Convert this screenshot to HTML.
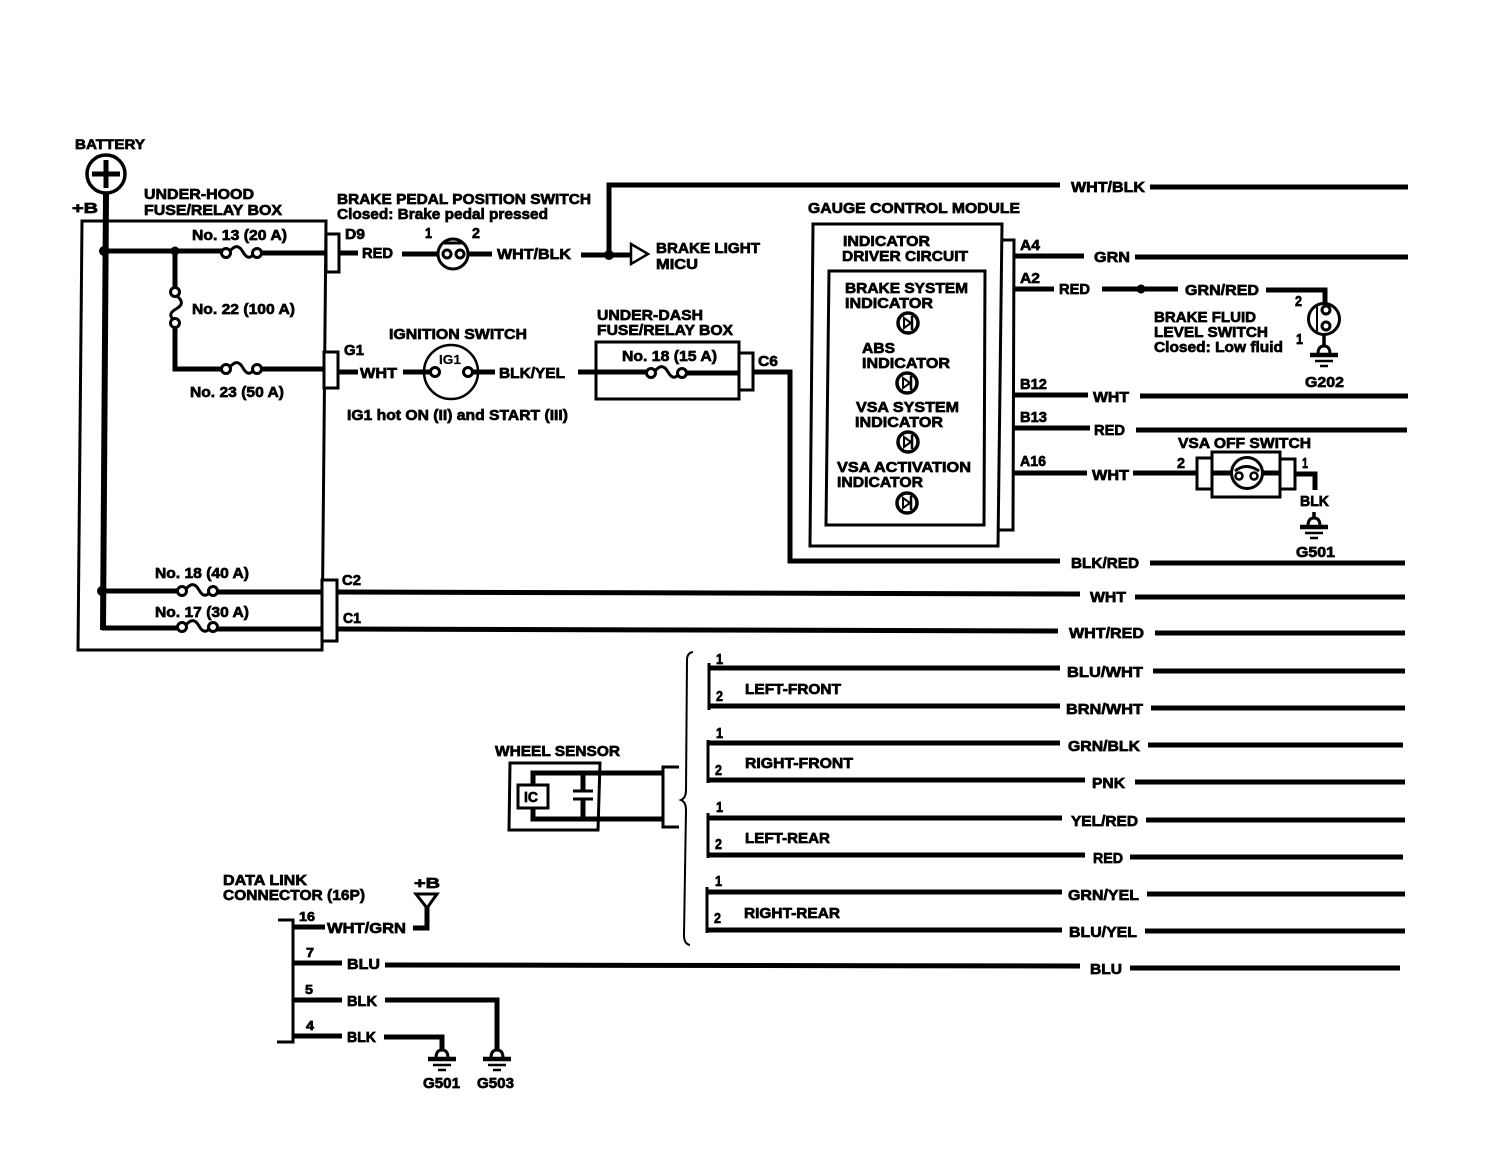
<!DOCTYPE html>
<html><head><meta charset="utf-8"><title>Wiring diagram</title>
<style>
html,body{margin:0;padding:0;background:#fff}
svg{display:block}
text{font-family:"Liberation Sans",sans-serif;font-weight:bold;font-size:15px;fill:#000;stroke:#000;stroke-width:.7px}
.w{fill:none;stroke:#000;stroke-width:5;stroke-linejoin:miter}
.v{fill:none;stroke:#000;stroke-width:3}
.t{fill:none;stroke:#000;stroke-width:3}
.n{fill:none;stroke:#000;stroke-width:2}
.b{fill:#fff;stroke:#000;stroke-width:3}
</style></head><body>
<svg width="1504" height="1168" viewBox="0 0 1504 1168" xmlns="http://www.w3.org/2000/svg">
<defs>
<g id="f"><path d="M-12 -2C-7 -8 -3 -8 1 -1C5 6 9 6 13 -1" fill="none" stroke="#000" stroke-width="3"/><circle cx="-16" cy="0" r="4.5" fill="#fff" stroke="#000" stroke-width="3"/><circle cx="15" cy="0" r="4.5" fill="#fff" stroke="#000" stroke-width="3"/></g>
<g id="g"><path d="M-6 -1Q-6 -9 0 -9Q6 -9 6 -1" fill="#fff" stroke="#000" stroke-width="3"/><path d="M-14 0H14" stroke="#000" stroke-width="4.5"/><path d="M-9 6H9" stroke="#000" stroke-width="2.5"/><path d="M-4 11H4" stroke="#000" stroke-width="2.5"/></g>
<g id="l"><circle r="10" fill="#fff" stroke="#000" stroke-width="3.5"/><path d="M-4 -5V5L3 0Z" fill="#fff" stroke="#000" stroke-width="2"/><path d="M4 -7V7" stroke="#000" stroke-width="2.5"/></g>
</defs>

<!-- under-hood box -->
<path class="t" d="M82 221H326L322 650H78Z"/>
<circle cx="106" cy="174" r="19" fill="#fff" stroke="#000" stroke-width="3.5"/>
<path d="M92 174H120M106 160V188" stroke="#000" stroke-width="5"/>
<path d="M106 193L103 630" fill="none" stroke="#000" stroke-width="6"/>
<circle cx="104" cy="251" r="5"/><circle cx="175" cy="251" r="4.5"/><circle cx="102" cy="591" r="5"/>
<path class="w" d="M104 251H222M261 253H327"/>
<path class="w" d="M175 251V289M175 327V369H222M261 369H324"/>
<use href="#f" x="242" y="253"/>
<use href="#f" transform="translate(175 308) rotate(90)"/>
<use href="#f" x="242" y="369"/>
<path class="w" d="M102 591H178M217 592H322"/>
<path class="w" d="M102 628H178M217 629H322"/>
<use href="#f" x="198" y="591"/><use href="#f" x="198" y="627"/>
<rect class="b" x="326" y="234" width="13" height="38"/>
<rect class="b" x="324" y="352" width="14" height="36"/>
<rect class="b" x="322" y="580" width="15" height="61"/>

<path class="w" d="M339 253H358M402 254H438M468 254H492"/>
<path class="w" d="M338 372H358"/>
<circle cx="453" cy="254" r="15" class="t"/>
<path d="M444 243H462" stroke="#000" stroke-width="3"/>
<circle cx="447" cy="254" r="4" fill="#fff" stroke="#000" stroke-width="3"/><circle cx="460" cy="254" r="4" fill="#fff" stroke="#000" stroke-width="3"/>
<path class="w" d="M581 255H630M609 255V185H1060M1150 187H1408"/>
<circle cx="609" cy="255" r="5"/>
<path d="M631 244L648 254L631 264Z" fill="#fff" stroke="#000" stroke-width="2.5"/>

<circle cx="451" cy="372" r="27" fill="#fff" stroke="#000" stroke-width="2.5"/>
<path class="w" d="M403 372H431M472 372H495"/>
<circle cx="435" cy="372" r="4.5" fill="#fff" stroke="#000" stroke-width="3"/><circle cx="468" cy="372" r="4.5" fill="#fff" stroke="#000" stroke-width="3"/>

<path class="t" d="M596 342H739V399H596Z"/>
<path class="w" d="M578 372H647M686 373H739"/>
<use href="#f" x="667" y="373"/>
<rect class="b" x="739" y="353" width="14" height="37"/>
<path class="w" d="M753 372H790V561H1060M1150 563H1405"/>

<!-- gauge module -->
<path class="t" d="M1003 240H1014L1013 530H998"/>
<path class="b" d="M813 224H1002L998 546H810Z"/>
<path class="t" d="M829 271H985L984 525H826Z"/>
<use href="#l" x="908" y="323"/><use href="#l" x="907" y="383"/><use href="#l" x="908" y="442"/><use href="#l" x="907" y="503"/>
<path class="w" d="M1014 256H1084M1135 257H1408M1014 289H1054M1102 289H1178M1266 290H1325V305M1014 395H1088M1140 396H1408M1014 428H1090M1136 430H1407M1014 473H1087M1133 473H1197"/>
<circle cx="1141" cy="289" r="4.5"/>
<circle cx="1324" cy="319" r="15.5" class="t"/>
<path d="M1317 306V332" stroke="#000" stroke-width="2"/>
<circle cx="1326" cy="310" r="4" fill="#fff" stroke="#000" stroke-width="3"/><circle cx="1326" cy="326" r="4" fill="#fff" stroke="#000" stroke-width="3"/>
<path d="M1324 334V346" stroke="#000" stroke-width="3.5"/>
<use href="#g" x="1324" y="355"/>

<rect class="b" x="1197" y="458" width="15" height="31"/>
<rect class="b" x="1280" y="459" width="15" height="30"/>
<rect class="b" x="1212" y="452" width="68" height="45"/>
<path class="w" d="M1212 473H1232M1262 473H1280M1295 474H1315V490"/>
<circle cx="1247" cy="473" r="15.5" fill="#fff" stroke="#000" stroke-width="3"/>
<path d="M1235 471Q1246 462 1259 471" fill="none" stroke="#000" stroke-width="3"/>
<circle cx="1239" cy="476" r="3.5" fill="#fff" stroke="#000" stroke-width="2.5"/><circle cx="1254" cy="476" r="3.5" fill="#fff" stroke="#000" stroke-width="2.5"/>
<path d="M1314 512V520" stroke="#000" stroke-width="3.5"/>
<use href="#g" x="1314" y="527"/>

<path class="w" d="M337 592L1080 594M1135 597H1405M337 629L1058 631M1155 633H1405"/>

<!-- wheel sensor wires -->
<path class="n" d="M693 652Q687 653 687 660L686 790Q686 798 681 800Q686 802 686 810L684 935Q684 944 690 945"/>
<path class="v" d="M709 663V710M708 740V783M708 813V858M707 887V933"/>
<path class="w" d="M709 668H1060M1153 671H1405M709 706H1060M1151 708H1405"/>
<path class="w" d="M708 743H1060M1148 745H1403M708 780H1085M1135 782H1405"/>
<path class="w" d="M708 818H1062M1146 820H1405M708 855H1085M1130 857H1403"/>
<path class="w" d="M707 892H1062M1147 894H1405M707 930H1062M1145 931H1405"/>

<path class="t" d="M510 763H600L598 830H509Z"/>
<path class="w" d="M533 785V773H663M533 808V819H664"/>
<path class="w" d="M583 773V790M583 800V819"/>
<path d="M573 791H593M573 799H593" stroke="#000" stroke-width="3"/>
<rect x="518" y="785" width="30" height="23" fill="#fff" stroke="#000" stroke-width="3"/>
<path class="t" d="M679 767H663V827H679"/>

<!-- data link -->
<path class="t" d="M278 920H293V1042H277"/>
<path class="w" d="M293 927H325M413 928H427V907M293 963H342M385 965L1080 966M1130 968H1400M293 1000H342M385 1000H497V1050M293 1036H342M384 1037H442V1050"/>
<path d="M416 894H437L427 908Z" fill="#fff" stroke="#000" stroke-width="3"/>
<use href="#g" x="442" y="1059"/><use href="#g" x="497" y="1059"/>

<!-- labels -->
<text x="75" y="149" textLength="70" lengthAdjust="spacingAndGlyphs" style="font-size:14px">BATTERY</text>
<text x="72" y="213" textLength="26" lengthAdjust="spacingAndGlyphs">+B</text>
<text x="144" y="199" textLength="110" lengthAdjust="spacingAndGlyphs">UNDER-HOOD</text>
<text x="144" y="215" textLength="138" lengthAdjust="spacingAndGlyphs">FUSE/RELAY BOX</text>
<text x="337" y="204" textLength="254" lengthAdjust="spacingAndGlyphs">BRAKE PEDAL POSITION SWITCH</text>
<text x="337" y="219" textLength="211" lengthAdjust="spacingAndGlyphs">Closed: Brake pedal pressed</text>
<text x="345" y="239" textLength="20" lengthAdjust="spacingAndGlyphs">D9</text>
<text x="362" y="258" textLength="31" lengthAdjust="spacingAndGlyphs">RED</text>
<text x="425" y="238" textLength="7" lengthAdjust="spacingAndGlyphs">1</text>
<text x="472" y="238" textLength="8" lengthAdjust="spacingAndGlyphs">2</text>
<text x="497" y="259" textLength="74" lengthAdjust="spacingAndGlyphs">WHT/BLK</text>
<text x="656" y="253" textLength="104" lengthAdjust="spacingAndGlyphs">BRAKE LIGHT</text>
<text x="656" y="269" textLength="42" lengthAdjust="spacingAndGlyphs">MICU</text>
<text x="1071" y="192" textLength="74" lengthAdjust="spacingAndGlyphs">WHT/BLK</text>
<text x="808" y="213" textLength="212" lengthAdjust="spacingAndGlyphs">GAUGE CONTROL MODULE</text>
<text x="192" y="240" textLength="95" lengthAdjust="spacingAndGlyphs">No. 13 (20 A)</text>
<text x="192" y="314" textLength="103" lengthAdjust="spacingAndGlyphs">No. 22 (100 A)</text>
<text x="190" y="397" textLength="94" lengthAdjust="spacingAndGlyphs">No. 23 (50 A)</text>
<text x="344" y="355" textLength="20" lengthAdjust="spacingAndGlyphs">G1</text>
<text x="360" y="378" textLength="37" lengthAdjust="spacingAndGlyphs">WHT</text>
<text x="389" y="339" textLength="138" lengthAdjust="spacingAndGlyphs">IGNITION SWITCH</text>
<text x="439" y="364" textLength="22" lengthAdjust="spacingAndGlyphs" style="font-size:13px;stroke-width:.2px">IG1</text>
<text x="499" y="378" textLength="66" lengthAdjust="spacingAndGlyphs">BLK/YEL</text>
<text x="347" y="420" textLength="221" lengthAdjust="spacingAndGlyphs">IG1 hot ON (II) and START (III)</text>
<text x="597" y="320" textLength="106" lengthAdjust="spacingAndGlyphs">UNDER-DASH</text>
<text x="597" y="335" textLength="136" lengthAdjust="spacingAndGlyphs">FUSE/RELAY BOX</text>
<text x="622" y="361" textLength="95" lengthAdjust="spacingAndGlyphs">No. 18 (15 A)</text>
<text x="758" y="366" textLength="20" lengthAdjust="spacingAndGlyphs">C6</text>
<text x="843" y="246" textLength="87" lengthAdjust="spacingAndGlyphs">INDICATOR</text>
<text x="842" y="261" textLength="126" lengthAdjust="spacingAndGlyphs">DRIVER CIRCUIT</text>
<text x="845" y="293" textLength="123" lengthAdjust="spacingAndGlyphs">BRAKE SYSTEM</text>
<text x="845" y="308" textLength="88" lengthAdjust="spacingAndGlyphs">INDICATOR</text>
<text x="862" y="353" textLength="33" lengthAdjust="spacingAndGlyphs">ABS</text>
<text x="862" y="368" textLength="88" lengthAdjust="spacingAndGlyphs">INDICATOR</text>
<text x="856" y="412" textLength="103" lengthAdjust="spacingAndGlyphs">VSA SYSTEM</text>
<text x="855" y="427" textLength="88" lengthAdjust="spacingAndGlyphs">INDICATOR</text>
<text x="837" y="472" textLength="134" lengthAdjust="spacingAndGlyphs">VSA ACTIVATION</text>
<text x="837" y="487" textLength="86" lengthAdjust="spacingAndGlyphs">INDICATOR</text>
<text x="1020" y="250" textLength="20" lengthAdjust="spacingAndGlyphs">A4</text>
<text x="1020" y="283" textLength="20" lengthAdjust="spacingAndGlyphs">A2</text>
<text x="1020" y="389" textLength="27" lengthAdjust="spacingAndGlyphs">B12</text>
<text x="1020" y="422" textLength="27" lengthAdjust="spacingAndGlyphs">B13</text>
<text x="1020" y="466" textLength="26" lengthAdjust="spacingAndGlyphs">A16</text>
<text x="1094" y="262" textLength="36" lengthAdjust="spacingAndGlyphs">GRN</text>
<text x="1059" y="294" textLength="31" lengthAdjust="spacingAndGlyphs">RED</text>
<text x="1185" y="295" textLength="74" lengthAdjust="spacingAndGlyphs">GRN/RED</text>
<text x="1295" y="306" textLength="7" lengthAdjust="spacingAndGlyphs">2</text>
<text x="1296" y="344" textLength="7" lengthAdjust="spacingAndGlyphs">1</text>
<text x="1154" y="322" textLength="102" lengthAdjust="spacingAndGlyphs">BRAKE FLUID</text>
<text x="1154" y="337" textLength="114" lengthAdjust="spacingAndGlyphs">LEVEL SWITCH</text>
<text x="1154" y="352" textLength="129" lengthAdjust="spacingAndGlyphs">Closed: Low fluid</text>
<text x="1305" y="387" textLength="39" lengthAdjust="spacingAndGlyphs">G202</text>
<text x="1093" y="402" textLength="36" lengthAdjust="spacingAndGlyphs">WHT</text>
<text x="1094" y="435" textLength="31" lengthAdjust="spacingAndGlyphs">RED</text>
<text x="1178" y="448" textLength="133" lengthAdjust="spacingAndGlyphs">VSA OFF SWITCH</text>
<text x="1092" y="480" textLength="37" lengthAdjust="spacingAndGlyphs">WHT</text>
<text x="1177" y="468" textLength="8" lengthAdjust="spacingAndGlyphs">2</text>
<text x="1302" y="468" textLength="6" lengthAdjust="spacingAndGlyphs">1</text>
<text x="1300" y="506" textLength="29" lengthAdjust="spacingAndGlyphs">BLK</text>
<text x="1296" y="557" textLength="39" lengthAdjust="spacingAndGlyphs">G501</text>
<text x="1071" y="568" textLength="68" lengthAdjust="spacingAndGlyphs">BLK/RED</text>
<text x="342" y="585" textLength="19" lengthAdjust="spacingAndGlyphs">C2</text>
<text x="343" y="623" textLength="18" lengthAdjust="spacingAndGlyphs">C1</text>
<text x="155" y="578" textLength="94" lengthAdjust="spacingAndGlyphs">No. 18 (40 A)</text>
<text x="155" y="617" textLength="94" lengthAdjust="spacingAndGlyphs">No. 17 (30 A)</text>
<text x="1090" y="602" textLength="36" lengthAdjust="spacingAndGlyphs">WHT</text>
<text x="1069" y="638" textLength="75" lengthAdjust="spacingAndGlyphs">WHT/RED</text>
<text x="1067" y="677" textLength="76" lengthAdjust="spacingAndGlyphs">BLU/WHT</text>
<text x="1066" y="714" textLength="77" lengthAdjust="spacingAndGlyphs">BRN/WHT</text>
<text x="1068" y="751" textLength="72" lengthAdjust="spacingAndGlyphs">GRN/BLK</text>
<text x="1092" y="788" textLength="33" lengthAdjust="spacingAndGlyphs">PNK</text>
<text x="1071" y="826" textLength="67" lengthAdjust="spacingAndGlyphs">YEL/RED</text>
<text x="1093" y="863" textLength="30" lengthAdjust="spacingAndGlyphs">RED</text>
<text x="1068" y="900" textLength="71" lengthAdjust="spacingAndGlyphs">GRN/YEL</text>
<text x="1069" y="937" textLength="68" lengthAdjust="spacingAndGlyphs">BLU/YEL</text>
<text x="1090" y="974" textLength="32" lengthAdjust="spacingAndGlyphs">BLU</text>
<text x="716" y="664" textLength="7" lengthAdjust="spacingAndGlyphs">1</text>
<text x="716" y="701" textLength="7" lengthAdjust="spacingAndGlyphs">2</text>
<text x="745" y="694" textLength="96" lengthAdjust="spacingAndGlyphs">LEFT-FRONT</text>
<text x="716" y="738" textLength="7" lengthAdjust="spacingAndGlyphs">1</text>
<text x="715" y="775" textLength="7" lengthAdjust="spacingAndGlyphs">2</text>
<text x="745" y="768" textLength="108" lengthAdjust="spacingAndGlyphs">RIGHT-FRONT</text>
<text x="716" y="812" textLength="7" lengthAdjust="spacingAndGlyphs">1</text>
<text x="715" y="849" textLength="7" lengthAdjust="spacingAndGlyphs">2</text>
<text x="745" y="843" textLength="85" lengthAdjust="spacingAndGlyphs">LEFT-REAR</text>
<text x="715" y="886" textLength="7" lengthAdjust="spacingAndGlyphs">1</text>
<text x="714" y="923" textLength="7" lengthAdjust="spacingAndGlyphs">2</text>
<text x="744" y="918" textLength="96" lengthAdjust="spacingAndGlyphs">RIGHT-REAR</text>
<text x="495" y="756" textLength="125" lengthAdjust="spacingAndGlyphs">WHEEL SENSOR</text>
<text x="524" y="802" textLength="14" lengthAdjust="spacingAndGlyphs">IC</text>
<text x="223" y="885" textLength="84" lengthAdjust="spacingAndGlyphs">DATA LINK</text>
<text x="223" y="900" textLength="142" lengthAdjust="spacingAndGlyphs">CONNECTOR (16P)</text>
<text x="414" y="888" textLength="26" lengthAdjust="spacingAndGlyphs">+B</text>
<text x="299" y="921" textLength="16" lengthAdjust="spacingAndGlyphs" style="font-size:13px">16</text>
<text x="327" y="933" textLength="79" lengthAdjust="spacingAndGlyphs">WHT/GRN</text>
<text x="306" y="957" textLength="8" lengthAdjust="spacingAndGlyphs" style="font-size:13px">7</text>
<text x="347" y="969" textLength="33" lengthAdjust="spacingAndGlyphs">BLU</text>
<text x="305" y="994" textLength="8" lengthAdjust="spacingAndGlyphs" style="font-size:13px">5</text>
<text x="347" y="1006" textLength="30" lengthAdjust="spacingAndGlyphs">BLK</text>
<text x="306" y="1030" textLength="8" lengthAdjust="spacingAndGlyphs" style="font-size:13px">4</text>
<text x="347" y="1042" textLength="29" lengthAdjust="spacingAndGlyphs">BLK</text>
<text x="423" y="1088" textLength="37" lengthAdjust="spacingAndGlyphs">G501</text>
<text x="477" y="1088" textLength="37" lengthAdjust="spacingAndGlyphs">G503</text>
</svg>
</body></html>
